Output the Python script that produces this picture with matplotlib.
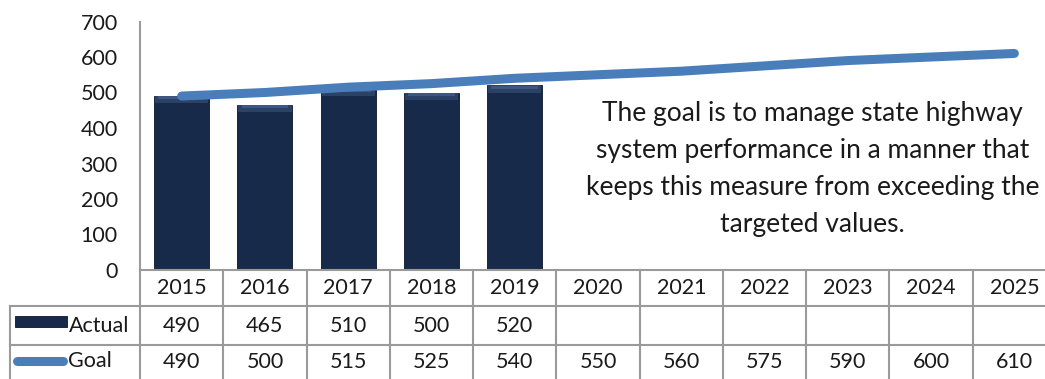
import numpy as np
import matplotlib.pyplot as plt
from matplotlib.patches import Rectangle
from matplotlib.lines import Line2D
from matplotlib.transforms import blended_transform_factory

plt.rcParams['font.family'] = ['Lato', 'DejaVu Sans']

years = ['2015', '2016', '2017', '2018', '2019', '2020',
         '2021', '2022', '2023', '2024', '2025']
actual = [490, 465, 510, 500, 520]
goal = [490, 500, 515, 525, 540, 550, 560, 575, 590, 600, 610]
yticks = [0, 100, 200, 300, 400, 500, 600, 700]
note = ("The goal is to manage state highway\n"
        "system performance in a manner that\n"
        "keeps this measure from exceeding the\n"
        "targeted values.")

bar_col = '#172a4a'
line_col = '#4a7ebb'
grid_col = '#9a9a9a'
txt_col = '#1a1a1a'

fig = plt.figure(figsize=(10.45, 3.79), dpi=100)
ax = fig.add_axes([140 / 1045, 109 / 379, 916 / 1045, 248.5 / 379])

x = np.arange(len(years))
xa = x[:len(actual)]
ax.bar(xa, actual, width=0.66, color=bar_col, edgecolor='#0c1628', lw=0.6, zorder=2)
# bevel highlight on top of each bar
ax.bar(xa, [20] * len(actual), bottom=np.array(actual) - 20, width=0.64,
       color='#2c4166', lw=0, zorder=2)
ax.bar(xa, [8] * len(actual), bottom=np.array(actual) - 9, width=0.56,
       color='#3f5780', lw=0, zorder=2)
ax.plot(x, goal, color=line_col, lw=6.5, solid_capstyle='round', zorder=3)

ax.set_xlim(-0.5, len(years) - 0.5)
ax.set_ylim(0, 700)
ax.set_yticks(yticks)
ax.set_xticks([])
ax.tick_params(axis='y', length=0, pad=16, labelsize=15.5, labelcolor=txt_col)
for s in ['top', 'right', 'bottom']:
    ax.spines[s].set_visible(False)
ax.spines['left'].set_color(grid_col)
ax.spines['left'].set_linewidth(1.5)

ax.text(7.58, 0.405, note, transform=blended_transform_factory(ax.transData, ax.transAxes),
        ha='center', va='center', fontsize=19, color=txt_col, linespacing=1.6)

# data table below the plot
tr = blended_transform_factory(ax.transData, ax.transAxes)
r0, r1, r2, r3 = 0.0, -0.145, -0.302, -0.46
left = -2.06
right = len(years) - 0.5
kw = dict(color=grid_col, lw=1.5, transform=tr, clip_on=False)
ax.add_line(Line2D([-0.5, right], [r0, r0], **kw))
for r in (r1, r2, r3):
    ax.add_line(Line2D([left, right], [r, r], **kw))
for i in range(len(years) + 1):
    ax.add_line(Line2D([i - 0.5, i - 0.5], [r0, r3], **kw))
ax.add_line(Line2D([left, left], [r1, r3], **kw))

fs = 15.5
for i, yr in enumerate(years):
    ax.text(i, (r0 + r1) / 2, yr, transform=tr, ha='center', va='center',
            fontsize=fs, color=txt_col)
for i, v in enumerate(actual):
    ax.text(i, (r1 + r2) / 2, str(v), transform=tr, ha='center', va='center',
            fontsize=fs, color=txt_col)
for i, v in enumerate(goal):
    ax.text(i, (r2 + r3) / 2 + 0.01, str(v), transform=tr, ha='center', va='center',
            fontsize=fs, color=txt_col)

# legend keys
ax.add_patch(Rectangle((-2.0, -0.229), 0.624, 0.044, transform=tr, clip_on=False,
                       facecolor=bar_col, edgecolor='#0c1628', lw=0.6))
ax.text(-1.35, (r1 + r2) / 2, 'Actual', transform=tr, ha='left', va='center',
        fontsize=fs, color=txt_col)
ax.add_line(Line2D([-1.98, -1.42], [-0.366, -0.366], color=line_col, lw=6.5,
                   solid_capstyle='round', transform=tr, clip_on=False))
ax.text(-1.37, -0.366, 'Goal', transform=tr, ha='left', va='center',
        fontsize=fs, color=txt_col)

fig.savefig('out.png', dpi=100)
